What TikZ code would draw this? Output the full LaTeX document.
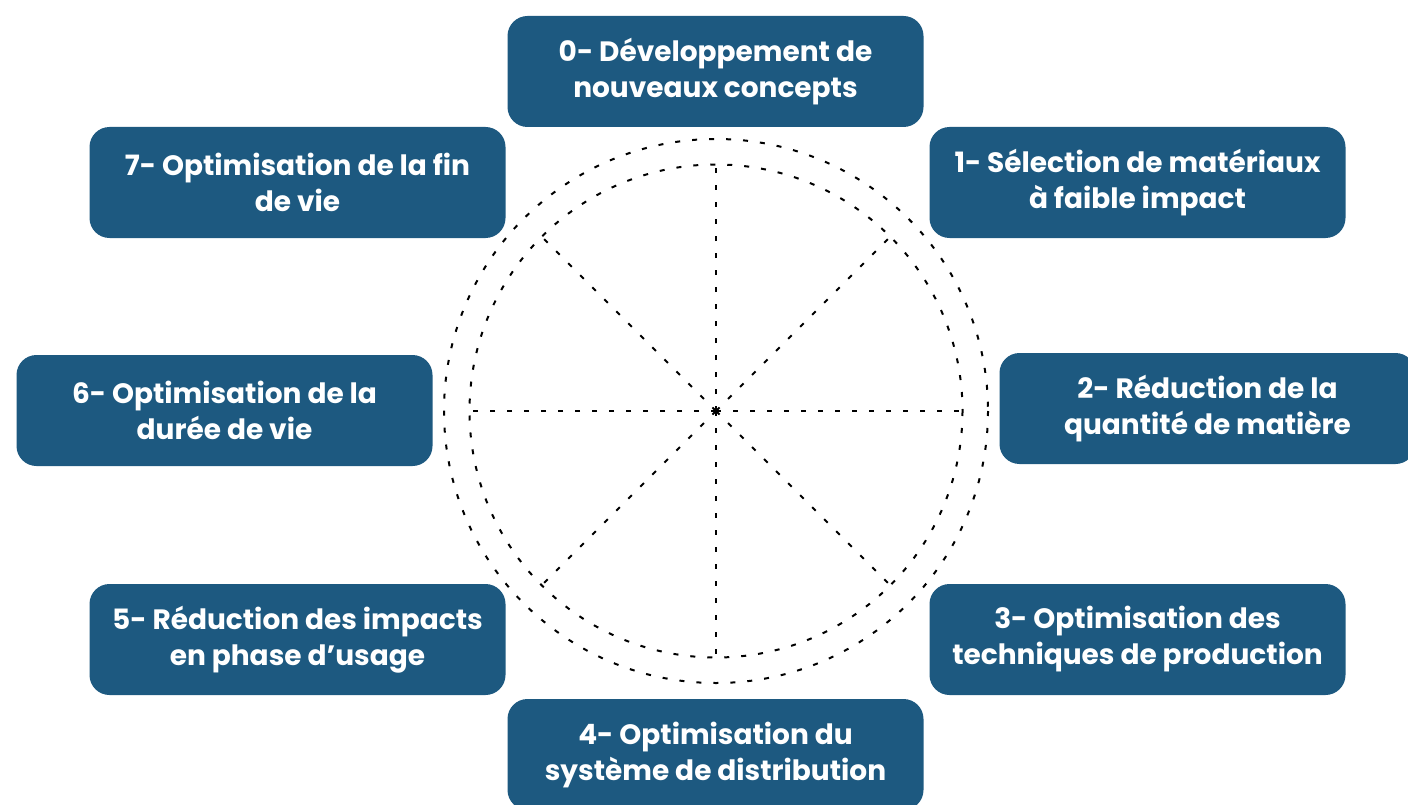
\documentclass[tikz,border=0pt]{standalone}
\usepackage{fontspec}
\setmainfont{Poppins}
\definecolor{boxblue}{RGB}{29,89,128}
\begin{document}
\begin{tikzpicture}[x=1pt,y=-1pt,
  stage/.style={fill=boxblue, rounded corners=20pt, minimum width=416pt,
    minimum height=111pt, text=white, align=center, inner sep=0pt,
    font=\fontsize{28}{36}\selectfont\bfseries},
  dotline/.style={line width=2pt, dash pattern=on 5pt off 12pt}]
\useasboundingbox (0,0) rectangle (1408,805);
\clip (0,0) rectangle (1408,805);

% dotted wheel: two rings and eight spokes
\coordinate (c) at (716,411);
\draw[dotline] (c) circle[radius=272];
\draw[dotline] (c) circle[radius=246.5];
\foreach \a in {0,45,...,315}
  \draw[dotline] (c) -- ++(\a:246.5);

% stages around the wheel
\node[stage] (b0) at (715.5,71.5)  {0- Développement de\\nouveaux concepts};
\node[stage] (b1) at (1137.5,182.5) {1- Sélection de matériaux\\à faible impact};
\node[stage] (b2) at (1207.5,408.5) {2- Réduction de la\\quantité de matière};
\node[stage] (b3) at (1137.5,639.5) {3- Optimisation des\\techniques de production};
\node[stage] (b4) at (715.5,754.5)  {4- Optimisation du\\système de distribution};
\node[stage] (b5) at (297.5,639.5)  {5- Réduction des impacts\\en phase d’usage};
\node[stage] (b6) at (224.5,410.5)  {6- Optimisation de la\\durée de vie};
\node[stage] (b7) at (297.5,182.5)  {7- Optimisation de la fin\\de vie};
\end{tikzpicture}
\end{document}
